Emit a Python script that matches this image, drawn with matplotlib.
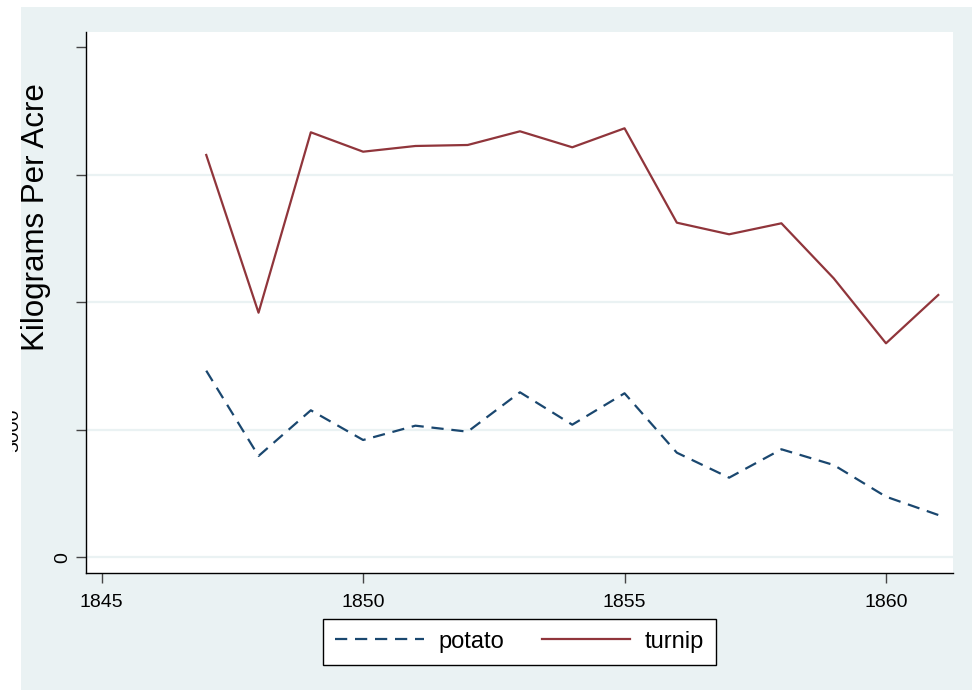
import matplotlib as mpl
mpl.use('Agg')
import matplotlib.pyplot as plt
from matplotlib.patches import Rectangle
from matplotlib.transforms import Bbox

plt.rcParams['font.family'] = ['Liberation Sans', 'DejaVu Sans']

years = list(range(1847, 1862))
potato = [7318, 3973, 5765, 4600, 5161, 4926, 6471, 5200, 6432,
          4102, 3122, 4236, 3620, 2377, 1659]
turnip = [15777, 9592, 16667, 15906, 16130, 16169, 16706, 16079, 16824,
          13122, 12667, 13098, 10941, 8392, 10287]
xticks = [1845, 1850, 1855, 1860]
yticks = [0, 5000, 10000, 15000, 20000]

W, H = 972, 692
fig = plt.figure(figsize=(W / 100, H / 100), dpi=100, facecolor='white')

# stata-ish graph region
fig.patches.append(Rectangle((20.7 / W, 2 / H), 1 - 20.7 / W, (690 - 6.7) / H,
                             transform=fig.transFigure, facecolor='#EAF2F3',
                             edgecolor='none', zorder=-1))

ax = fig.add_axes([86.3 / W, (H - 573) / H, (952.7 - 86.3) / W, (573 - 32) / H])
ax.set_zorder(1)
ax.set_facecolor('white')

ax.plot(years, potato, color='#1A476F', lw=1.6, dashes=(5.5, 3.5), label='potato')
ax.plot(years, turnip, color='#90353B', lw=1.6, label='turnip')

ax.set_xlim(1844.706, 1861.276)
ax.set_ylim(-616, 20600)
ax.set_xticks(xticks)
ax.set_yticks(yticks)
ax.set_yticklabels(['0', '', '', '', ''], rotation=90, va='center')

for s in ['top', 'right']:
    ax.spines[s].set_visible(False)
for s in ['left', 'bottom']:
    ax.spines[s].set_linewidth(1.0)
    ax.spines[s].set_color('black')

ax.tick_params(axis='both', length=7, width=1, color='#444444',
               labelsize=14, labelcolor='black')
ax.tick_params(axis='y', pad=4)
ax.tick_params(axis='x', pad=8)

ax.grid(axis='y', color='#EAF2F3', lw=1.6)
ax.get_ygridlines()[-1].set_visible(False)
ax.set_axisbelow(True)

# the 5000 label sits off to the left and is partly cut
t5 = fig.text(13.5 / W, 1 - 429.8 / H, '5000', rotation=90, ha='center',
              va='center', fontsize=14)
t5.set_clip_on(True)
t5.set_clip_box(Bbox([[12, 0], [W, H]]))

fig.text(36 / W, 1 - 217.5 / H, 'Kilograms Per Acre', rotation=90,
         ha='center', va='center', fontsize=22.5)

leg = fig.legend(loc='center', bbox_to_anchor=(519.5 / W, 1 - 641.7 / H),
                 ncol=2, fontsize=17, frameon=True, fancybox=False,
                 framealpha=1, handlelength=3.76, handletextpad=0.6,
                 columnspacing=1.6, borderpad=0.5)
leg.get_frame().set_edgecolor('black')
leg.get_frame().set_linewidth(1.0)

fig.savefig('out.png', dpi=100, facecolor='white')
